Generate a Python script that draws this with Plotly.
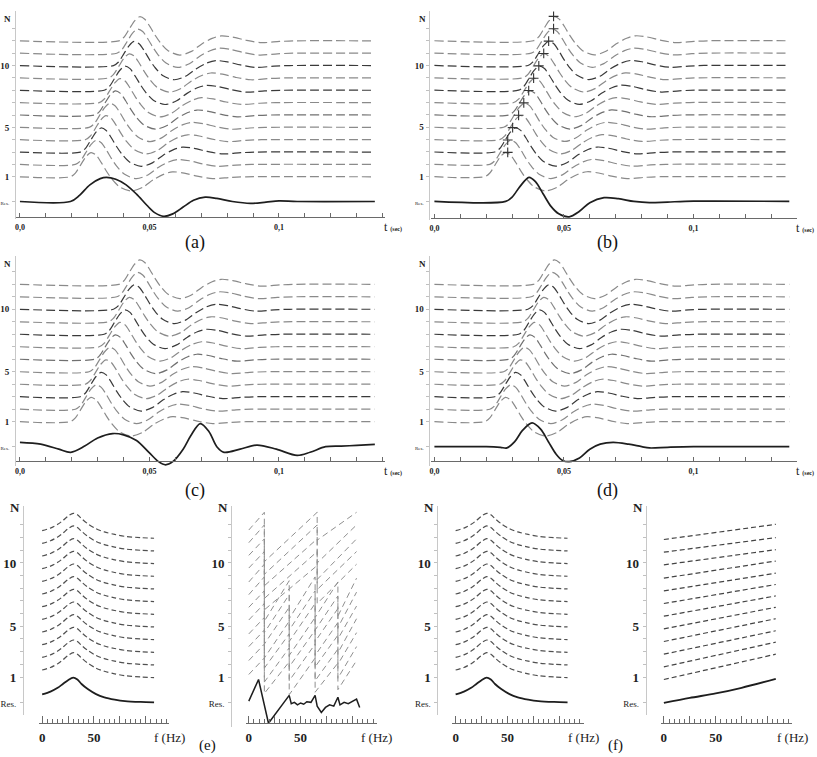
import plotly.graph_objects as go

W, H = 817, 757

# ======================= DATA =======================
trace_levels = [1, 2, 3, 4, 5, 6, 7, 8, 9, 10, 11, 12]
res_level = -1

# time-domain traces: peak time of each trace N=1..12 (s)
peak_times = [0.0274, 0.0294, 0.0313, 0.0332, 0.0347, 0.0368, 0.0386, 0.0405, 0.0422, 0.0441, 0.0454, 0.0462]
# base wavelet (time relative to peak, amplitude in trace units)
wavelet_dt = [-0.008, -0.006, -0.004, -0.002, 0.0, 0.002, 0.004, 0.006, 0.008, 0.011, 0.0155,
              0.020, 0.024, 0.028, 0.0315, 0.036, 0.041, 0.047, 0.054, 0.060]
wavelet_amp = [0.0, 0.3, 0.95, 1.6, 1.95, 1.75, 1.15, 0.45, -0.15, -0.8, -1.15,
               -0.85, -0.25, 0.2, 0.4, 0.3, 0.05, -0.15, -0.05, 0.0]
t_first, t_last = 0.0, 0.137

# picks shown in (b)
pick_times = [0.0283, 0.0283, 0.0302, 0.0325, 0.0345, 0.0364, 0.0383, 0.0403, 0.0422, 0.0441, 0.0460, 0.0460]
pick_amp = 1.97

# resulting (stacked) traces
res_a_t = [0.0, 0.0195, 0.023, 0.027, 0.031, 0.0334, 0.037, 0.041, 0.045, 0.049, 0.052, 0.0555, 0.059,
           0.063, 0.067, 0.0715, 0.076, 0.082, 0.089, 0.095, 0.100, 0.107, 0.137]
res_a_v = [0.0, 0.0, 0.5, 1.35, 1.85, 1.95, 1.8, 1.35, 0.6, -0.3, -0.9, -1.2, -1.0,
           -0.45, 0.1, 0.35, 0.25, 0.0, -0.15, -0.05, 0.05, 0.0, 0.0]
res_b_t = [0.0, 0.0275, 0.030, 0.033, 0.0365, 0.039, 0.042, 0.045, 0.048, 0.052, 0.056, 0.060,
           0.0655, 0.071, 0.077, 0.083, 0.090, 0.100, 0.137]
res_b_v = [0.0, 0.0, 0.35, 1.2, 1.95, 1.6, 0.6, -0.4, -1.0, -1.25, -0.8, -0.1,
           0.3, 0.22, 0.0, -0.1, -0.05, 0.02, 0.0]
res_c_t = [0.0, 0.008, 0.015, 0.0196, 0.025, 0.030, 0.0358, 0.040, 0.045, 0.050, 0.0535, 0.0562, 0.059,
           0.063, 0.066, 0.0696, 0.073, 0.076, 0.0788, 0.085, 0.0915, 0.099, 0.107, 0.112, 0.118,
           0.124, 0.130, 0.137]
res_c_v = [0.35, 0.2, -0.2, -0.45, 0.05, 0.7, 1.05, 0.95, 0.5, -0.5, -1.2, -1.45, -1.2,
           -0.2, 0.9, 1.85, 1.2, 0.0, -0.45, -0.2, 0.13, -0.2, -0.7, -0.45, 0.0,
           0.05, 0.1, 0.18]
res_d_t = [0.0, 0.020, 0.0255, 0.028, 0.031, 0.034, 0.0377, 0.041, 0.044, 0.047, 0.0495, 0.052,
           0.056, 0.060, 0.064, 0.069, 0.075, 0.080, 0.083, 0.090, 0.100, 0.137]
res_d_v = [0.0, 0.0, -0.05, -0.1, 0.4, 1.3, 1.9, 1.4, 0.4, -0.6, -1.1, -1.2,
           -0.9, -0.2, 0.2, 0.35, 0.2, 0.0, -0.1, -0.05, 0.0, 0.0]

# amplitude spectra (e-left, f-left)
spec_f = [0, 8, 15, 20, 25, 30, 34, 38, 44, 52, 60, 70, 80, 95, 108]
spec_amp = [0.55, 0.75, 1.05, 1.35, 1.7, 1.92, 1.8, 1.5, 1.1, 0.7, 0.45, 0.25, 0.1, 0.0, -0.05]
res_spec_amp = [0.63, 0.85, 1.15, 1.45, 1.75, 1.95, 1.8, 1.45, 1.05, 0.65, 0.4, 0.22, 0.1, 0.03, 0.0]

# phase spectra (e-right)
phase_f_low = [0, 15, 15, 39, 39, 64, 64, 86, 86, 104]
phase_f_high = [0, 15, 15, 66, 66, 104]
phase_vals = [
    [0.2, 1.5, -1.3, 1.2, -1.4, 1.5, -1.2, 1.1, -1.0, 1.3],
    [0.3, 1.6, -1.4, 1.3, -1.3, 1.6, -1.3, 1.2, -1.1, 1.4],
    [0.4, 1.7, -1.3, 1.4, -1.2, 1.7, -1.2, 1.3, -1.0, 1.5],
    [0.4, 1.7, -1.5, 1.4, -1.3, 1.7, -1.3, 1.3, -1.1, 1.6],
    [0.5, 1.8, -1.4, 1.5, -1.2, 1.8, -1.2, 1.4, -1.0, 1.6],
    [0.5, 1.8, -1.5, 1.5, -1.3, 1.8, -1.3, 1.4, -1.1, 1.7],
    [0.5, 1.9, -1.6, 1.6, -1.4, 1.9, -1.3, 1.5, -1.2, 1.8],
    [0.5, 1.9, -1.7, 1.8, -1.2, 1.9],
    [0.6, 1.9, -1.8, 1.9, -1.1, 1.9],
    [0.6, 1.9, -1.8, 1.9, -1.3, 1.9],
    [0.6, 2.0, -1.9, 2.0, -1.0, 2.0],
    [0.6, 2.0, -1.9, 2.0, -0.2, 2.0],
]
res_phase_f = [0, 9.4, 19, 39, 41, 44, 47, 50, 53, 56, 60, 64, 66, 70, 74, 78, 82, 86, 88, 92, 96, 100, 104, 107]
res_phase_v = [0.1, 1.8, -1.65, 0.55, -0.1, 0.0, -0.2, -0.05, -0.15, 0.05, 0.0, 0.55, -0.3, -0.8,
               -0.4, -0.2, -0.3, 0.4, -0.2, 0.0, -0.1, 0.05, 0.25, -0.4]

# f-right: near-linear spectra
lin_f = [0, 108]
lin_start = [-0.2, -0.2, -0.2, -0.2, -0.2, -0.2, -0.2, -0.2, -0.2, -0.15, -0.15, -0.15]
lin_end = [1.8, 1.75, 1.65, 1.6, 1.5, 1.4, 1.3, 1.2, 1.15, 1.05, 1.0, 1.05]
res_lin_f = [0, 25, 50, 75, 108]
res_lin_v = [-0.05, 0.35, 0.7, 1.15, 1.85]

# tick labels
t_tickvals = [0.0, 0.01, 0.02, 0.03, 0.04, 0.05, 0.06, 0.07, 0.08, 0.09, 0.10, 0.11, 0.12, 0.13, 0.14]
t_ticktext = ["0,0", "", "", "", "", "0,05", "", "", "", "", "0,1", "", "", "", ""]
f_tickvals = [0, 25, 50, 75, 100]
f_ticktext = ["0", "", "50", "", ""]
n_tickvals = [-1, 1, 2, 3, 4, 5, 6, 7, 8, 9, 10, 11, 12, 13]
n_ticklabels = ["Res.", "1", "", "", "", "5", "", "", "", "", "10", "", "", ""]

# ======================= STYLE / LAYOUT =======================
SERIF = "Liberation Serif, 'Times New Roman', Times, serif"
TSCALE = 2600.0   # px per second
FSCALE = 1.04     # px per Hz

top_panels = [
    dict(xdom=(13, 383), x0=17, ydom=(11, 219), xax=217, y1=176.8, ys=12.36, yax=12, lab="(a)", lab_xy=(193, 242)),
    dict(xdom=(430, 797), x0=433, ydom=(11, 220), xax=218, y1=176.7, ys=12.36, yax=428, lab="(b)", lab_xy=(607, 242)),
    dict(xdom=(13, 383), x0=17, ydom=(256, 466), xax=461, y1=421.7, ys=12.49, yax=12, lab="(c)", lab_xy=(193, 490)),
    dict(xdom=(430, 797), x0=433, ydom=(256, 466), xax=461, y1=421.7, ys=12.49, yax=428, lab="(d)", lab_xy=(607, 490)),
]
bot_panels = [
    dict(xdom=(36, 167), x0=39.3, yax=20, ybot=715),
    dict(xdom=(244, 375), x0=246.7, yax=229, ybot=727),
    dict(xdom=(451, 583), x0=454.3, yax=436, ybot=715),
    dict(xdom=(660, 792), x0=663.3, yax=645, ybot=715),
]
BOT_YTOP = 506
BOT_Y1 = 677
BOT_YS = 12.67
BOT_XAX_Y = 723

trace_colors = ["#8a8a8a", "#8a8a8a", "#3a3a3a", "#8a8a8a", "#8a8a8a", "#707070",
                "#8a8a8a", "#3a3a3a", "#8a8a8a", "#3a3a3a", "#8a8a8a", "#8a8a8a"]


def fx(p):
    return p / W


def fy(p):
    return 1 - p / H


def ax_ids(i):
    return ("x" if i == 1 else f"x{i}", "y" if i == 1 else f"y{i}")


fig = go.Figure()
layout_axes = {}
annotations = []


def note(xp, yp, text, size, xanchor="center", yanchor="middle", color="#222"):
    annotations.append(dict(x=fx(xp), y=fy(yp), xref="paper", yref="paper", text=text, showarrow=False,
                            xanchor=xanchor, yanchor=yanchor,
                            font=dict(family=SERIF, size=size, color=color)))


def make_axes(i, xdom, xrng, xpos, ydom, yrng, ypos, xtickvals, xticktext, xfont, res_txt, yfont,
              xminor=None, xticklen=4):
    xk = "xaxis" if i == 1 else f"xaxis{i}"
    yk = "yaxis" if i == 1 else f"yaxis{i}"
    xd = dict(domain=[fx(xdom[0]), fx(xdom[1])], range=xrng, anchor="free", position=xpos,
              showline=True, linecolor="#6a6a6a", linewidth=1, showgrid=False, zeroline=False,
              ticks="inside", ticklen=xticklen, tickwidth=1, tickcolor="#6a6a6a",
              tickmode="array", tickvals=xtickvals, ticktext=xticktext, tickfont=xfont,
              ticklabelstandoff=2, fixedrange=True)
    if xminor:
        xd["minor"] = xminor
    layout_axes[xk] = xd
    ttext = [res_txt] + n_ticklabels[1:]
    layout_axes[yk] = dict(domain=[fy(ydom[1]), fy(ydom[0])], range=yrng, anchor="free", position=ypos,
                           showline=True, linecolor="#c8c8c8", linewidth=1, showgrid=False, zeroline=False,
                           ticks="outside", ticklen=3, tickwidth=1, tickcolor="#c0c0c0",
                           tickmode="array", tickvals=n_tickvals, ticktext=ttext, tickfont=yfont,
                           ticklabelstandoff=1, fixedrange=True)


# ---------------- top panels ----------------
res_sets = [(res_a_t, res_a_v), (res_b_t, res_b_v), (res_c_t, res_c_v), (res_d_t, res_d_v)]
for pi, P in enumerate(top_panels):
    i = pi + 1
    xa, ya = ax_ids(i)
    xr = [(P["xdom"][0] - P["x0"]) / TSCALE, (P["xdom"][1] - P["x0"]) / TSCALE]
    yr = [1 - (P["ydom"][1] - P["y1"]) / P["ys"], 1 + (P["y1"] - P["ydom"][0]) / P["ys"]]
    make_axes(i, P["xdom"], xr, fy(P["xax"]), P["ydom"], yr, fx(P["yax"]),
              t_tickvals, t_ticktext, dict(family=SERIF, size=8, color="#222", weight="bold"),
              "<span style='font-size:5px;font-weight:normal'>Res.</span>",
              dict(family=SERIF, size=9, color="#222", weight="bold"))
    for k, lev in enumerate(trace_levels):
        xs = [t_first] + [peak_times[k] + d for d in wavelet_dt] + [t_last]
        ys = [lev] + [lev + a for a in wavelet_amp] + [lev]
        fig.add_trace(go.Scatter(x=xs, y=ys, mode="lines", xaxis=xa, yaxis=ya,
                                 line=dict(color=trace_colors[k], width=1.2, dash="9px,4px",
                                           shape="spline", smoothing=0.8),
                                 hoverinfo="skip", showlegend=False))
    rt, rv = res_sets[pi]
    fig.add_trace(go.Scatter(x=rt, y=[res_level + v for v in rv], mode="lines", xaxis=xa, yaxis=ya,
                             line=dict(color="#1e1e1e", width=1.7, shape="spline", smoothing=0.9),
                             hoverinfo="skip", showlegend=False))
    if pi == 1:
        fig.add_trace(go.Scatter(x=pick_times, y=[lev + pick_amp for lev in trace_levels], mode="markers",
                                 xaxis=xa, yaxis=ya,
                                 marker=dict(symbol="cross-thin", size=7, line=dict(width=1.1, color="#333")),
                                 cliponaxis=False, hoverinfo="skip", showlegend=False))
    note(P["yax"] - 7, P["ydom"][0] + 8, "<b>N</b>", 9)
    note(P["xdom"][1] - 3, P["xax"] + 10, "t <b><span style='font-size:6px'>(sec)</span></b>", 12,
         xanchor="left")
    note(P["lab_xy"][0], P["lab_xy"][1], P["lab"], 18, color="#111")

# ---------------- bottom panels ----------------
for bi, P in enumerate(bot_panels):
    i = bi + 5
    xa, ya = ax_ids(i)
    ydom = (BOT_YTOP, P["ybot"])
    xr = [(P["xdom"][0] - P["x0"]) / FSCALE, (P["xdom"][1] - P["x0"]) / FSCALE]
    yr = [1 - (ydom[1] - BOT_Y1) / BOT_YS, 1 + (BOT_Y1 - ydom[0]) / BOT_YS]
    make_axes(i, P["xdom"], xr, fy(BOT_XAX_Y), ydom, yr, fx(P["yax"]),
              f_tickvals, f_ticktext, dict(family=SERIF, size=13, color="#222", weight="bold"),
              "<span style='font-size:9px;font-weight:normal'>Res.</span>",
              dict(family=SERIF, size=13, color="#222", weight="bold"),
              xminor=dict(dtick=5, tick0=0, ticklen=4, ticks="inside", tickcolor="#6a6a6a"),
              xticklen=7)
    if bi in (0, 2):
        for k, lev in enumerate(trace_levels):
            fig.add_trace(go.Scatter(x=spec_f, y=[lev + a for a in spec_amp], mode="lines",
                                     xaxis=xa, yaxis=ya,
                                     line=dict(color="#505050", width=1.2, dash="5px,3px",
                                               shape="spline", smoothing=0.8),
                                     hoverinfo="skip", showlegend=False))
        fig.add_trace(go.Scatter(x=spec_f, y=[res_level + a for a in res_spec_amp], mode="lines",
                                 xaxis=xa, yaxis=ya,
                                 line=dict(color="#1e1e1e", width=1.8, shape="spline", smoothing=0.8),
                                 hoverinfo="skip", showlegend=False))
    elif bi == 1:
        for k, lev in enumerate(trace_levels):
            vals = phase_vals[k]
            ff = phase_f_low if len(vals) == len(phase_f_low) else phase_f_high
            fig.add_trace(go.Scatter(x=ff, y=[lev + v for v in vals], mode="lines",
                                     xaxis=xa, yaxis=ya,
                                     line=dict(color="#8f8f8f", width=1.0, dash="6px,4px"),
                                     hoverinfo="skip", showlegend=False))
        fig.add_trace(go.Scatter(x=res_phase_f, y=[res_level + v for v in res_phase_v], mode="lines",
                                 xaxis=xa, yaxis=ya,
                                 line=dict(color="#1e1e1e", width=1.5),
                                 hoverinfo="skip", showlegend=False))
    else:
        for k, lev in enumerate(trace_levels):
            fig.add_trace(go.Scatter(x=lin_f, y=[lev + lin_start[k], lev + lin_end[k]], mode="lines",
                                     xaxis=xa, yaxis=ya,
                                     line=dict(color="#444444", width=1.2, dash="5px,3px"),
                                     hoverinfo="skip", showlegend=False))
        fig.add_trace(go.Scatter(x=res_lin_f, y=[res_level + v for v in res_lin_v], mode="lines",
                                 xaxis=xa, yaxis=ya,
                                 line=dict(color="#1e1e1e", width=1.8, shape="spline", smoothing=0.8),
                                 hoverinfo="skip", showlegend=False))
    note(P["yax"] - 8, 507, "<b>N</b>", 13)
    note(P["xdom"][1], 737, "f (Hz)", 13)

note(205, 756, "(e)", 15, yanchor="bottom", color="#111")
note(615, 756, "(f)", 15, yanchor="bottom", color="#111")

fig.update_layout(width=W, height=H, margin=dict(l=0, r=0, t=0, b=0),
                  paper_bgcolor="white", plot_bgcolor="white", showlegend=False,
                  annotations=annotations, **layout_axes)

fig.write_html("out.html")
